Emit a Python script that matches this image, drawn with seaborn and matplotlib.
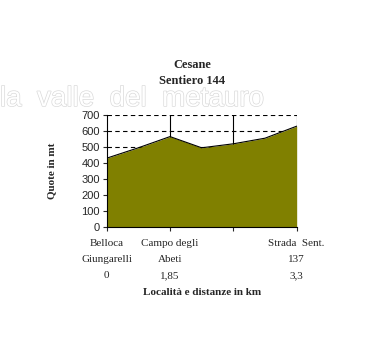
import matplotlib
matplotlib.use("Agg")
import matplotlib.pyplot as plt
import matplotlib.patheffects as pe
import numpy as np
import pandas as pd
import seaborn as sns

# Elevation profile data
points = [0, 1, 2, 3, 4, 5, 6]
quote = [430, 495, 565, 495, 520, 555, 630]
tick_labels = ["Belloca\nGiungarelli\n0", "", "Campo degli\nAbeti\n1,85", "", "", "", "Strada  Sent.\n137\n3,3"]
y_ticks = [0, 100, 200, 300, 400, 500, 600, 700]

df = pd.DataFrame({"punto": points, "quota": quote})

sns.set_style("white")
plt.rcParams["font.family"] = ["Liberation Serif", "DejaVu Serif"]

fig = plt.figure(figsize=(3.86, 3.64), dpi=100)
fig.patch.set_facecolor("white")
ax = fig.add_axes([0.2764, 0.3764, 0.4922, 0.3077])

# watermark
fig.text(0.0, 1 - 99 / 364, "la  valle  del  metauro", fontsize=20, color="white",
         family="Liberation Sans", ha="left", va="center", zorder=0,
         path_effects=[pe.withStroke(linewidth=1.0, foreground="#dadada")])

# grid: dashed horizontals, solid verticals every 2 points
for y in y_ticks[1:]:
    ax.axhline(y, color="black", lw=0.8, ls=(0, (4, 3)), zorder=1)
for x in [2, 4, 6]:
    ax.axvline(x, color="black", lw=0.8, zorder=1)

ax.fill_between(df["punto"], df["quota"], 0, color="#808000", zorder=2, lw=0)
sns.lineplot(data=df, x="punto", y="quota", color="black", lw=0.8, ax=ax, zorder=3)

ax.set_xlim(0, 6)
ax.set_ylim(0, 700)
ax.set_yticks(y_ticks)
ax.set_yticklabels([str(v) for v in y_ticks], family="Liberation Sans", fontsize=8)
ax.set_xticks([0, 2, 4, 6])
ax.set_xticklabels([tick_labels[0], tick_labels[2], tick_labels[4], tick_labels[6]],
                   fontsize=8, linespacing=1.95)
ax.tick_params(axis="x", direction="out", length=3, width=0.8, pad=6, bottom=True)
ax.tick_params(axis="y", direction="out", length=3, width=0.8, pad=2, left=True)

for s in ["top", "right"]:
    ax.spines[s].set_visible(False)
for s in ["left", "bottom"]:
    ax.spines[s].set_color("black")
    ax.spines[s].set_linewidth(0.8)
    ax.spines[s].set_zorder(4)

ax.set_xlabel("Località e distanze in km", fontsize=8, fontweight="bold", labelpad=6)
ax.set_ylabel("Quote in mt", fontsize=8, fontweight="bold", labelpad=18)

fig.text(192 / 386, 1 - 73 / 364, "Cesane\nSentiero 144", ha="center", va="center",
         fontsize=9, fontweight="bold", linespacing=1.4)

fig.savefig("out.png", dpi=100)
